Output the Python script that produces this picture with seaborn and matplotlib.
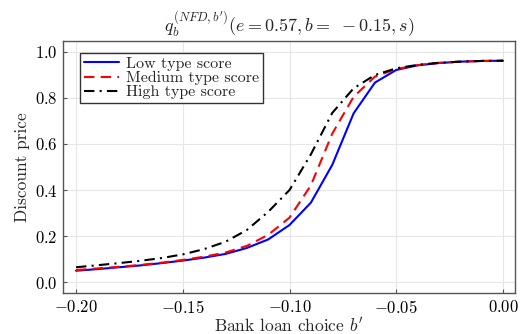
import numpy as np
import pandas as pd
import matplotlib
matplotlib.use("Agg")
import matplotlib.pyplot as plt
import seaborn as sns

b_choice = [-0.20, -0.19, -0.18, -0.17, -0.16, -0.15, -0.14, -0.13, -0.12, -0.11, -0.10,
            -0.09, -0.08, -0.07, -0.06, -0.05, -0.04, -0.03, -0.02, -0.01, 0.00]
low_score = [0.049, 0.056, 0.064, 0.072, 0.082, 0.093, 0.106, 0.122, 0.148, 0.185, 0.248,
             0.345, 0.509, 0.733, 0.867, 0.922, 0.942, 0.952, 0.958, 0.961, 0.962]
medium_score = [0.052, 0.059, 0.066, 0.074, 0.084, 0.096, 0.110, 0.128, 0.157, 0.205, 0.280,
                0.420, 0.645, 0.805, 0.893, 0.926, 0.943, 0.953, 0.958, 0.961, 0.962]
high_score = [0.064, 0.073, 0.082, 0.092, 0.104, 0.120, 0.143, 0.175, 0.226, 0.305, 0.400,
              0.555, 0.735, 0.842, 0.900, 0.929, 0.944, 0.953, 0.958, 0.961, 0.962]
series_names = ["Low type score", "Medium type score", "High type score"]

df = pd.concat([
    pd.DataFrame({"b": b_choice, "q": vals, "series": name})
    for name, vals in zip(series_names, [low_score, medium_score, high_score])
])

sns.set_theme(style="whitegrid")
plt.rcParams["font.family"] = ["serif"]
plt.rcParams["font.serif"] = ["cmr10", "DejaVu Serif"]
plt.rcParams["mathtext.fontset"] = "cm"
plt.rcParams["axes.formatter.use_mathtext"] = True

fig = plt.figure(figsize=(5.2, 3.34), dpi=100)
ax = fig.add_axes([63/520, 1 - 293/334, (515-63)/520, (293-41)/334])

palette = {"Low type score": "#0000ff", "Medium type score": "#ff0000", "High type score": "#000000"}
dashes = {"Low type score": "", "Medium type score": (5, 3), "High type score": (5, 2.5, 1, 2.5)}
sns.lineplot(data=df, x="b", y="q", hue="series", style="series", palette=palette,
             dashes=dashes, linewidth=1.5, ax=ax, legend=True)

ax.set_xlim(-0.2061, 0.0056)
ax.set_ylim(-0.0478, 1.0478)
ax.set_xticks([-0.20, -0.15, -0.10, -0.05, 0.00])
ax.set_xticklabels([r"$-0.20$", r"$-0.15$", r"$-0.10$", r"$-0.05$", r"$0.00$"])
ax.set_yticks([0.0, 0.2, 0.4, 0.6, 0.8, 1.0])
ax.set_yticklabels([r"$0.0$", r"$0.2$", r"$0.4$", r"$0.6$", r"$0.8$", r"$1.0$"])
ax.tick_params(direction="in", length=3, width=0.8, colors="#555555", labelcolor="black",
               labelsize=12, pad=4, bottom=True, left=True)
ax.grid(True, color="#e6e6e6", linewidth=0.8)
for s in ax.spines.values():
    s.set_color("#555555")
    s.set_linewidth(1.0)

ax.set_xlabel(r"Bank loan choice $b'$", fontsize=12.5, labelpad=0)
ax.set_ylabel("Discount price", fontsize=12.5, labelpad=3)
ax.set_title(r"$q_b^{(NFD,b')}(e = 0.57, b = \ -0.15, s)$", fontsize=13, pad=7)

leg = ax.legend(loc="upper left", fontsize=11.5, frameon=True, fancybox=False,
                edgecolor="#333333", framealpha=1, borderpad=0.25, labelspacing=0.0,
                handlelength=2.2, handletextpad=0.4, bbox_to_anchor=(0.02, 0.985))
leg.get_frame().set_linewidth(1.0)

fig.savefig("out.png", dpi=100)
